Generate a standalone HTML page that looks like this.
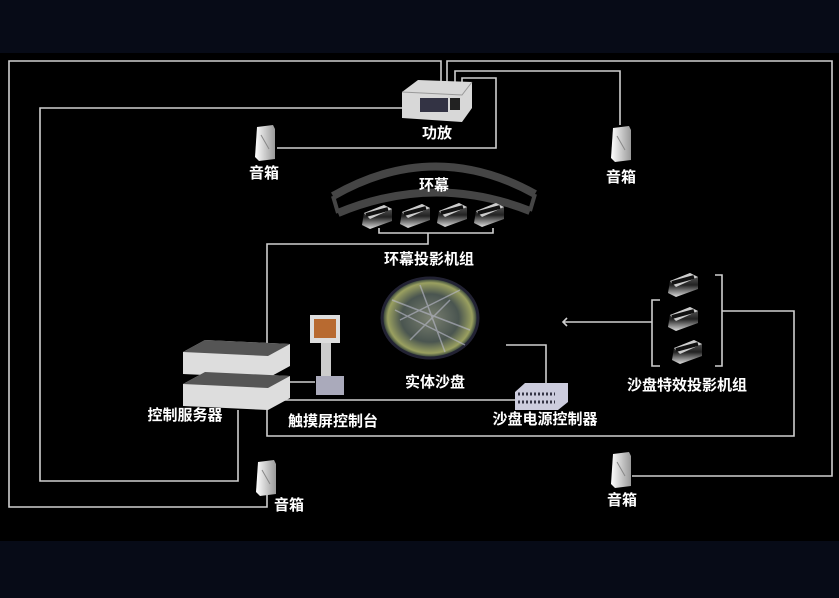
<!DOCTYPE html>
<html><head><meta charset="utf-8"><style>
html,body{margin:0;padding:0;background:#000;}
svg{display:block}
text{font-family:"Liberation Sans","Noto Sans CJK SC",sans-serif;font-weight:bold;fill:#fff;font-size:15px;text-anchor:middle}
</style></head><body>
<svg width="839" height="598" viewBox="0 0 839 598" xmlns="http://www.w3.org/2000/svg">
<defs>
<linearGradient id="spk" x1="0" x2="1"><stop offset="0" stop-color="#fff"/><stop offset="1" stop-color="#999"/></linearGradient>
<linearGradient id="prj" x1="0" y1="0" x2="0" y2="1"><stop offset="0" stop-color="#666"/><stop offset="0.5" stop-color="#222"/><stop offset="1" stop-color="#ddd"/></linearGradient>
<radialGradient id="map"><stop offset="0" stop-color="#7a8070"/><stop offset="0.6" stop-color="#4a5550"/><stop offset="0.88" stop-color="#9aa060"/><stop offset="1" stop-color="#1a2a30"/></radialGradient>
<g id="speaker"><path d="M2 2 L18 0 L20 4 L20 34 L4 36 L0 32 Z" fill="url(#spk)"/><path d="M6 10 L14 24" stroke="#888" stroke-width="1"/></g>
<g id="proj"><path d="M2 8 L22 0 L30 4 L30 16 L8 24 L0 20 Z" fill="url(#prj)"/><path d="M2 8 L22 0 L30 4 L8 14 Z" fill="#ccc"/><path d="M4 10 L26 4" stroke="#111" stroke-width="4"/></g>
</defs>
<rect x="0" y="0" width="839" height="53" fill="#070b17"/>
<rect x="0" y="541" width="839" height="57" fill="#070b17"/>
<g fill="none" stroke="#cfcfcf" stroke-width="1.6">
<polyline points="441,84 441,61 9,61 9,507 267,507 267,490"/>
<polyline points="447,84 447,61 832,61 832,476 632,476"/>
<polyline points="405,108 40,108 40,481 238,481 238,410"/>
<polyline points="455,84 455,71 620,71 620,125"/>
<polyline points="462,84 462,78 496,78 496,148 277,148"/>
<polyline points="379,228 379,233 493,233 493,228"/>
<polyline points="428,233 428,244 267,244 267,345"/>
<polyline points="267,400 267,436 794,436 794,311 722,311"/>
<polyline points="652,322 563,322"/>
<polyline points="567,318 563,322 567,326"/>
<polyline points="506,345 546,345 546,384"/>
<polyline points="267,400 515,400"/>
<polyline points="287,382 315,382"/>
<polyline points="660,300 652,300 652,366 660,366"/>
<polyline points="715,275 722,275 722,366 715,366"/>
</g>
<!-- amp -->
<path d="M402 92 L418 80 L472 82 L472 108 L462 122 L402 118 Z" fill="#d8d8d8"/>
<path d="M402 92 L462 95 L472 82" fill="none" stroke="#999"/>
<rect x="420" y="98" width="28" height="14" fill="#334"/>
<rect x="450" y="98" width="10" height="12" fill="#222"/>
<text x="437" y="138">功放</text>
<use href="#speaker" x="255" y="125"/><text x="264" y="178">音箱</text>
<use href="#speaker" x="611" y="126"/><text x="621" y="182">音箱</text>
<use href="#speaker" x="256" y="460"/><text x="289" y="510">音箱</text>
<use href="#speaker" x="611" y="452"/><text x="622" y="505">音箱</text>
<!-- curved screen -->
<g fill="none" stroke="#454545" stroke-width="8">
<path d="M333 196 Q434 138 535 194"/>
<path d="M338 213 Q434 173 530 211"/>
<path d="M333 196 L338 213 M535 194 L530 211" stroke-width="4"/>
</g>
<text x="434" y="190">环幕</text>
<use href="#proj" x="362" y="205"/><use href="#proj" x="400" y="204"/><use href="#proj" x="437" y="203"/><use href="#proj" x="474" y="203"/>
<text x="429" y="264">环幕投影机组</text>
<!-- sand table -->
<ellipse cx="430" cy="318" rx="48" ry="40" fill="url(#map)" stroke="#223" stroke-width="3"/>
<path d="M392 300 L470 330 M400 320 L460 290 M410 340 L450 300 M395 310 L465 345 M420 285 L445 352" stroke="#bbc" stroke-width="1.5" opacity="0.6"/>
<text x="435" y="387">实体沙盘</text>
<!-- server -->
<path d="M183 352 L205 340 L290 344 L290 366 L268 378 L183 374 Z" fill="#ddd"/>
<path d="M183 352 L205 340 L290 344 L268 356 Z" fill="#555"/>
<path d="M183 384 L205 372 L290 376 L290 398 L268 410 L183 406 Z" fill="#ddd"/>
<path d="M183 384 L205 372 L290 376 L268 388 Z" fill="#555"/>
<text x="185" y="420">控制服务器</text>
<!-- touch console -->
<rect x="310" y="315" width="30" height="28" fill="#ddd"/>
<rect x="314" y="319" width="22" height="19" fill="#b86a30"/>
<rect x="321" y="343" width="10" height="35" fill="#ccc"/>
<rect x="316" y="376" width="28" height="19" fill="#aab"/>
<text x="333" y="426">触摸屏控制台</text>
<!-- power controller -->
<path d="M515 392 L525 383 L568 383 L568 402 L558 410 L515 410 Z" fill="#ccd"/>
<path d="M518 394 L555 394 M518 402 L555 402" stroke="#334" stroke-width="3" stroke-dasharray="2 2"/>
<text x="545" y="424">沙盘电源控制器</text>
<!-- right projectors -->
<use href="#proj" x="668" y="273"/><use href="#proj" x="668" y="307"/><use href="#proj" x="672" y="340"/>
<text x="687" y="390">沙盘特效投影机组</text>
</svg>
</body></html>
